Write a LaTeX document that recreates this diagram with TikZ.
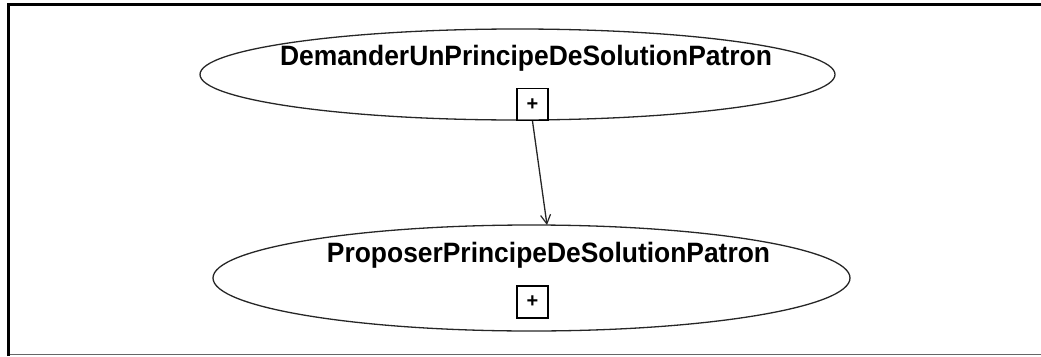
\documentclass[tikz,border=0pt]{standalone}
\usepackage{fontspec}
\setmainfont{Liberation Sans}
\usetikzlibrary{shapes.geometric,arrows.meta}
\begin{document}
\begin{tikzpicture}[x=1pt,y=-1pt,
  usecase/.style={draw=black!85,line width=1.3pt,ellipse,inner sep=0pt},
  uclabel/.style={anchor=base,inner sep=0pt,font=\fontsize{28}{28}\selectfont\bfseries},
  plusbox/.style={draw=black,line width=1.2pt,minimum width=31pt,minimum height=32pt,inner sep=0pt,font=\fontsize{20}{20}\selectfont\bfseries},
  link/.style={draw=black!85,line width=1.3pt,-{Straight Barb[length=9pt,width=10pt,line width=1.2pt]}}]
\useasboundingbox (0,0) rectangle (1041,356);
% frame
\draw[line width=3pt,black] (8.5,356) -- (8.5,4) -- (1041,4);
\draw[line width=1pt,black!60] (10,354.5) -- (1041,354.5);
% use cases
\node[usecase,minimum width=635pt,minimum height=91pt] (e1) at (517.5,74.5) {};
\node[usecase,minimum width=637pt,minimum height=106pt] (e2) at (531.5,278) {};
\node[uclabel] (t1) at (526,65) {\scalebox{0.944}[1]{DemanderUnPrincipeDeSolutionPatron}};
\node[uclabel] (t2) at (548.5,262) {\scalebox{0.943}[1]{ProposerPrincipeDeSolutionPatron}};
\node[plusbox] (b1) at (532.5,104.5) {+};
\node[plusbox] (b2) at (532.5,302) {+};
\coordinate (tip) at (547,225);
\draw[link] (b1.south) -- (tip);
\end{tikzpicture}
\end{document}
